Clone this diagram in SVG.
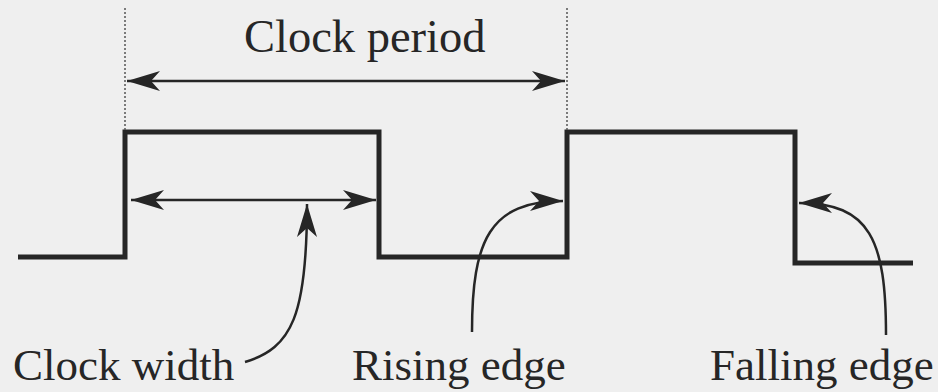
<svg xmlns="http://www.w3.org/2000/svg" width="938" height="392" viewBox="0 0 938 392">
<defs>
<style>
.lbl{font-family:"Liberation Serif","Times New Roman",serif;font-size:45px;fill:#262626}
.sig{fill:none;stroke:#262626;stroke-width:5;stroke-linejoin:miter}
.arr{fill:none;stroke:#262626;stroke-width:2.5}
.dot{fill:none;stroke:#555;stroke-width:1.5;stroke-dasharray:2 2}
</style>
<marker id="ah" markerUnits="userSpaceOnUse" viewBox="-34 -12 36 24" refX="0" refY="0" markerWidth="36" markerHeight="24" orient="auto-start-reverse">
<path d="M0,0 L-33,-10 L-24,0 L-33,10 Z" fill="#262626"/>
</marker>
</defs>
<rect width="938" height="392" fill="#efefef"/>
<g id="signal">
<path class="sig" d="M18,257 H125 V132 H379 V257 H567 V132 H795 V263 H913"/>
</g>
<g id="guides">
<line class="dot" x1="125" y1="8" x2="125" y2="130"/>
<line class="dot" x1="567" y1="8" x2="567" y2="130"/>
</g>
<g id="connectors">
<line class="arr" x1="127" y1="81" x2="565" y2="81" marker-start="url(#ah)" marker-end="url(#ah)"/>
<line class="arr" x1="131" y1="200" x2="376" y2="200" marker-start="url(#ah)" marker-end="url(#ah)"/>
<path class="arr" d="M245,362 C292,348 307,315 307,204" marker-end="url(#ah)"/>
<path class="arr" d="M472,332 C472,240 490,201 563,201" marker-end="url(#ah)"/>
<path class="arr" d="M886,335 C886,240 870,203 799,203" marker-end="url(#ah)"/>
</g>
<g id="label-period"><text class="lbl" x="244" y="52" style="font-size:46.5px">Clock period</text></g>
<g id="label-width"><text class="lbl" x="13" y="380">Clock width</text></g>
<g id="label-rising"><text class="lbl" x="352" y="380">Rising edge</text></g>
<g id="label-falling"><text class="lbl" x="710" y="380">Falling edge</text></g>
</svg>
